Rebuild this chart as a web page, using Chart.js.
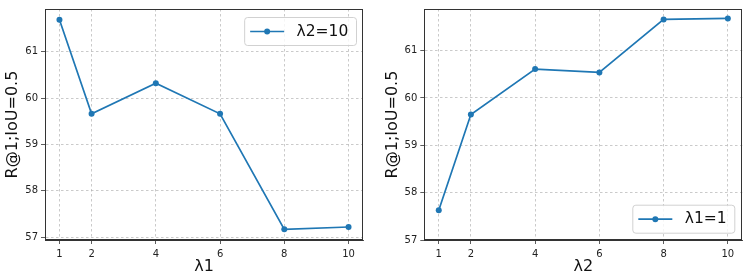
<!DOCTYPE html>
<html>
<head>
<meta charset="utf-8">
<script src="https://cdn.jsdelivr.net/npm/chart.js@4"></script>
<style>
  html, body { margin: 0; padding: 0; background: #fff; }
  body { width: 747px; height: 276px; position: relative; overflow: hidden; }
  .box { position: absolute; top: 0; height: 276px; }
</style>
</head>
<body>
<div class="box" style="left:0;width:370px"><canvas id="c1"></canvas></div>
<div class="box" style="left:380px;width:367px"><canvas id="c2"></canvas></div>
<script>
// ---- data ----
const xValues = [1, 2, 4, 6, 8, 10];
const leftSeries = [61.69, 59.66, 60.32, 59.66, 57.17, 57.22];
const rightSeries = [57.63, 59.65, 60.61, 60.54, 61.66, 61.68];
const xTickLabels = [1, 2, 4, 6, 8, 10];
const yTickLabels = [57, 58, 59, 60, 61];
const leftLabel = 'λ2=10';
const rightLabel = 'λ1=1';
const yTitle = 'R@1;IoU=0.5';

const BLUE = '#1f77b4';
const FONT = "'DejaVu Sans', sans-serif";

const frameAndLegend = {
  id: 'frameAndLegend',
  afterDraw(chart, args, opts) {
    const ctx = chart.ctx;
    const a = chart.chartArea;
    ctx.save();
    ctx.strokeStyle = '#333';
    ctx.lineWidth = 1;
    ctx.setLineDash([]);
    ctx.strokeRect(Math.round(a.left) + 0.5, Math.round(a.top) + 0.5,
                   Math.round(a.right - a.left) - 1, Math.round(a.bottom - a.top) - 1);
    // legend
    const ds = chart.data.datasets[0];
    ctx.font = '15.5px ' + FONT;
    const tw = ctx.measureText(ds.label).width;
    const w = 6 + 34 + 12.4 + tw + 7.7;
    const h = 28;
    const x = a.right - opts.right - w;
    const y = opts.corner === 'top' ? a.top + opts.off : a.bottom - opts.off - h;
    ctx.beginPath();
    ctx.roundRect(x + 0.5, y + 0.5, w, h, 3);
    ctx.fillStyle = 'rgba(255,255,255,0.8)';
    ctx.fill();
    ctx.strokeStyle = 'rgba(204,204,204,0.9)';
    ctx.lineWidth = 1;
    ctx.stroke();
    const cy = y + h / 2 + 0.5;
    ctx.beginPath();
    ctx.moveTo(x + 6, cy);
    ctx.lineTo(x + 40, cy);
    ctx.strokeStyle = ds.borderColor;
    ctx.lineWidth = 1.7;
    ctx.stroke();
    ctx.beginPath();
    ctx.arc(x + 23, cy, 3, 0, Math.PI * 2);
    ctx.fillStyle = ds.borderColor;
    ctx.fill();
    ctx.fillStyle = '#111';
    ctx.textBaseline = 'middle';
    ctx.textAlign = 'left';
    ctx.fillText(ds.label, x + 52.4, cy);
    ctx.restore();
  }
};

function gridOpts() {
  return {
    color: 'rgba(176,176,176,0.85)',
    lineWidth: 0.8,
    drawTicks: true,
    tickLength: 4,
    tickColor: '#333',
    tickWidth: 0.8,
    tickBorderDash: []
  };
}

function makeChart(id, values, label, xTitle, yMin, yMax, area, legendOpts) {
  const pts = xValues.map((x, i) => ({ x: x, y: values[i] }));
  return new Chart(document.getElementById(id), {
    type: 'line',
    data: {
      datasets: [{
        label: label,
        data: pts,
        borderColor: BLUE,
        backgroundColor: BLUE,
        borderWidth: 1.7,
        pointRadius: 3,
        pointHoverRadius: 3,
        pointBorderWidth: 0,
        tension: 0,
        fill: false
      }]
    },
    options: {
      responsive: true,
      maintainAspectRatio: false,
      animation: false,
      events: [],
      layout: { padding: { left: 0, right: area.padRight, top: area.top, bottom: 0 } },
      plugins: {
        legend: { display: false },
        tooltip: { enabled: false },
        frameAndLegend: legendOpts
      },
      scales: {
        x: {
          type: 'linear',
          min: 0.55,
          max: 10.45,
          afterBuildTicks(s) { s.ticks = xTickLabels.map(v => ({ value: v })); },
          afterFit(s) { s.height = 276 - area.bottom; },
          ticks: {
            autoSkip: false,
            maxRotation: 0,
            padding: 4,
            color: '#222',
            font: { family: FONT, size: 10 },
            callback: v => String(v)
          },
          grid: gridOpts(),
          border: { display: true, color: '#333', width: 1, dash: [2.5, 2.5] },
          title: {
            display: true,
            text: xTitle,
            color: '#111',
            font: { family: FONT, size: 16 },
            padding: { top: 0, bottom: 0 }
          }
        },
        y: {
          type: 'linear',
          min: yMin,
          max: yMax,
          afterBuildTicks(s) { s.ticks = yTickLabels.map(v => ({ value: v })); },
          afterFit(s) { s.width = area.left; },
          ticks: {
            padding: 3,
            color: '#222',
            font: { family: FONT, size: 10 },
            callback: v => String(v)
          },
          grid: gridOpts(),
          border: { display: true, color: '#333', width: 1, dash: [2.5, 2.5] },
          title: {
            display: true,
            text: yTitle,
            color: '#111',
            font: { family: FONT, size: 16 },
            padding: { top: 3, bottom: 0 }
          }
        }
      }
    },
    plugins: [frameAndLegend]
  });
}

makeChart('c1', leftSeries, leftLabel, 'λ1', 56.94, 61.92,
  { left: 45, padRight: 7, top: 4, bottom: 240 },
  { corner: 'top', right: 7, off: 8 });
makeChart('c2', rightSeries, rightLabel, 'λ2', 57, 61.88,
  { left: 44.3, padRight: 4.7, top: 4.3, bottom: 240 },
  { corner: 'bottom', right: 8, off: 7.3 });
</script>
</body>
</html>
